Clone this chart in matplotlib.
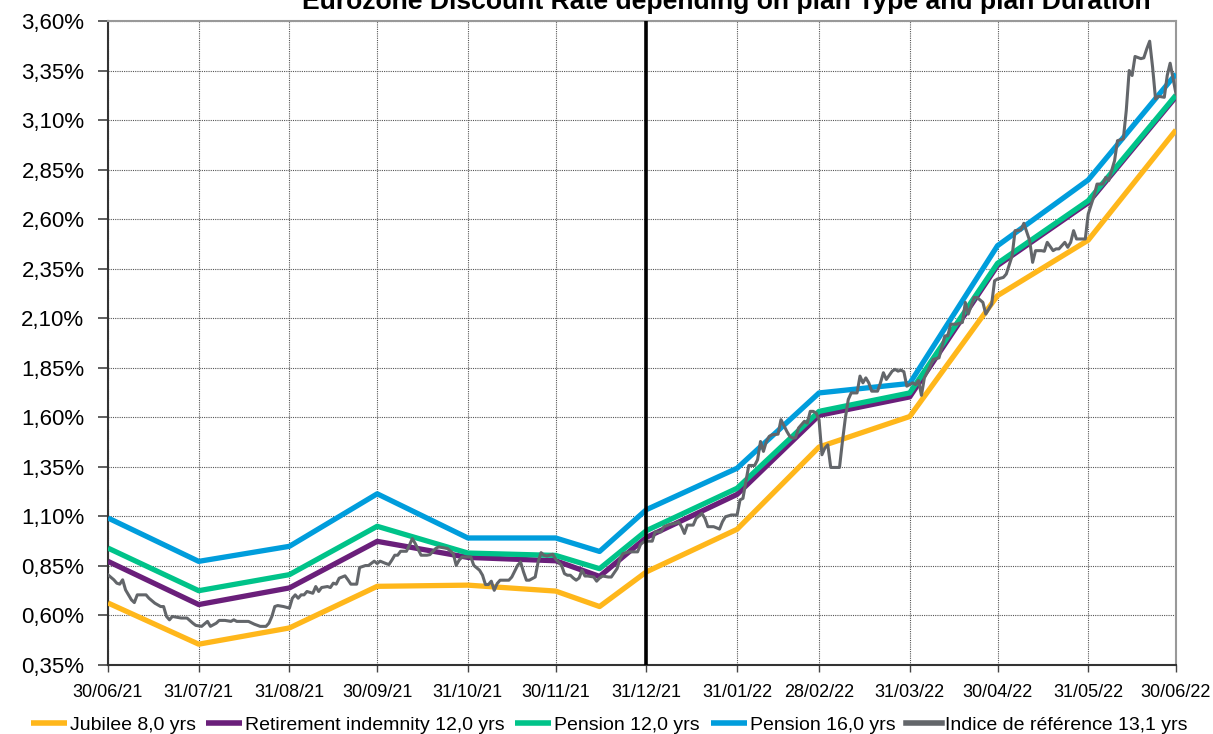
import matplotlib
matplotlib.use('Agg')
import matplotlib.pyplot as plt
import matplotlib.ticker as mticker
import pandas as pd

plt.rcParams['font.family'] = ['Liberation Sans', 'DejaVu Sans']

# ---------------- data ----------------
title = "Eurozone Discount Rate depending on plan Type and plan Duration"

curve_dates = ['2021-06-30', '2021-07-31', '2021-08-31', '2021-09-30', '2021-10-31',
               '2021-11-30', '2021-12-15', '2021-12-31', '2022-01-31', '2022-02-28',
               '2022-03-31', '2022-04-30', '2022-05-31', '2022-06-30']

jubilee_8 = [0.663, 0.455, 0.537, 0.747, 0.753, 0.723, 0.645, 0.820, 1.035, 1.450,
             1.604, 2.214, 2.494, 3.050]
retirement_12 = [0.873, 0.655, 0.739, 0.974, 0.893, 0.876, 0.797, 0.994, 1.211, 1.610,
                 1.703, 2.366, 2.683, 3.218]
pension_12 = [0.940, 0.725, 0.806, 1.050, 0.915, 0.903, 0.836, 1.028, 1.242, 1.630,
              1.723, 2.377, 2.693, 3.226]
pension_16 = [1.092, 0.873, 0.949, 1.214, 0.991, 0.991, 0.923, 1.134, 1.343, 1.723,
              1.771, 2.466, 2.798, 3.333]

index_start = '2021-06-30'
index_day = [0, 2, 3, 4, 5, 6, 8, 9, 10, 13, 14, 16, 18, 19, 20, 21, 22, 25, 27, 29,
             30, 32, 34, 35, 37, 38, 40, 42, 43, 44, 46, 48, 50, 52, 54, 55, 56, 57, 58, 60,
             62, 63, 64, 65, 66, 67, 68, 70, 71, 72, 73, 75, 76, 77, 78, 79, 81, 82, 83, 85,
             86, 88, 89, 91, 92, 93, 95, 96, 97, 98, 99, 100, 102, 103, 104, 105, 107, 109, 110, 112,
             113, 115, 116, 118, 119, 120, 121, 123, 124, 125, 127, 128, 129, 130, 131, 132, 133, 134, 137, 138,
             140, 141, 142, 143, 144, 146, 147, 148, 149, 150, 152, 153, 155, 156, 157, 158, 159, 160, 161, 162,
             163, 164, 166, 167, 168, 169, 171, 172, 174, 175, 176, 178, 179, 181, 182, 183, 184, 186, 187, 189,
             190, 192, 194, 195, 196, 197, 198, 200, 201, 203, 204, 205, 207, 209, 210, 211, 213, 215, 216, 217,
             218, 219, 221, 222, 223, 224, 225, 226, 227, 229, 230, 232, 233, 234, 235, 236, 238, 239, 240, 241,
             242, 243, 244, 245, 246, 247, 249, 250, 251, 252, 253, 254, 256, 257, 258, 259, 260, 261, 263, 264,
             265, 266, 268, 269, 270, 271, 272, 273, 275, 276, 277, 278, 279, 281, 282, 284, 286, 287, 288, 290,
             292, 293, 294, 296, 297, 299, 300, 302, 303, 304, 306, 307, 309, 310, 312, 313, 315, 316, 317, 319,
             320, 321, 323, 324, 325, 327, 328, 329, 330, 331, 333, 334, 335, 337, 338, 340, 341, 342, 344, 345,
             347, 348, 349, 350, 351, 353, 354, 355, 356, 357, 358, 359, 361, 362, 363, 364, 365]
index_rate = [0.805, 0.780, 0.763, 0.758, 0.780, 0.729, 0.679, 0.665, 0.704, 0.704, 0.687, 0.662, 0.645, 0.645, 0.595, 0.578, 0.595, 0.587, 0.587, 0.561,
              0.550, 0.545, 0.570, 0.545, 0.561, 0.575, 0.575, 0.570, 0.578, 0.570, 0.570, 0.570, 0.556, 0.545, 0.545, 0.561, 0.595, 0.645, 0.650, 0.645,
              0.637, 0.687, 0.704, 0.687, 0.704, 0.704, 0.721, 0.712, 0.746, 0.721, 0.741, 0.746, 0.741, 0.763, 0.758, 0.788, 0.800, 0.780, 0.758, 0.758,
              0.842, 0.852, 0.852, 0.874, 0.862, 0.874, 0.862, 0.857, 0.879, 0.904, 0.904, 0.924, 0.924, 0.954, 0.988, 0.963, 0.904, 0.904, 0.907, 0.938,
              0.946, 0.941, 0.938, 0.912, 0.853, 0.879, 0.895, 0.895, 0.895, 0.853, 0.828, 0.803, 0.756, 0.756, 0.773, 0.727, 0.761, 0.778, 0.778, 0.794,
              0.853, 0.870, 0.820, 0.778, 0.778, 0.794, 0.870, 0.917, 0.904, 0.900, 0.909, 0.884, 0.853, 0.811, 0.803, 0.803, 0.789, 0.778, 0.789, 0.828,
              0.799, 0.799, 0.794, 0.773, 0.789, 0.799, 0.794, 0.794, 0.837, 0.887, 0.912, 0.921, 0.921, 0.921, 0.958, 0.971, 0.975, 0.975, 1.022, 1.022,
              1.048, 1.060, 1.065, 1.073, 1.048, 1.014, 1.056, 1.056, 1.090, 1.115, 1.090, 1.048, 1.048, 1.036, 1.073, 1.098, 1.107, 1.107, 1.183, 1.191,
              1.276, 1.357, 1.357, 1.386, 1.478, 1.428, 1.478, 1.504, 1.512, 1.515, 1.588, 1.529, 1.504, 1.495, 1.497, 1.546, 1.580, 1.571, 1.630, 1.630,
              1.622, 1.588, 1.411, 1.445, 1.461, 1.347, 1.347, 1.347, 1.478, 1.597, 1.690, 1.723, 1.723, 1.808, 1.774, 1.799, 1.774, 1.732, 1.732, 1.774,
              1.825, 1.791, 1.833, 1.842, 1.833, 1.838, 1.830, 1.757, 1.774, 1.765, 1.786, 1.711, 1.799, 1.858, 1.892, 1.900, 2.011, 2.011, 2.070, 2.070,
              2.079, 2.180, 2.121, 2.205, 2.205, 2.180, 2.121, 2.171, 2.289, 2.298, 2.306, 2.323, 2.415, 2.542, 2.545, 2.579, 2.491, 2.382, 2.441, 2.441,
              2.438, 2.483, 2.441, 2.450, 2.450, 2.483, 2.458, 2.483, 2.542, 2.500, 2.500, 2.500, 2.626, 2.718, 2.777, 2.777, 2.811, 2.795, 2.895, 2.996,
              3.005, 3.148, 3.350, 3.325, 3.421, 3.410, 3.414, 3.459, 3.498, 3.367, 3.207, 3.220, 3.215, 3.325, 3.387, 3.308, 3.232]

series_labels = ['Jubilee 8,0 yrs', 'Retirement indemnity 12,0 yrs', 'Pension 12,0 yrs',
                 'Pension 16,0 yrs', 'Indice de référence 13,1 yrs']

tick_dates = ['2021-06-30', '2021-07-31', '2021-08-31', '2021-09-30', '2021-10-31',
              '2021-11-30', '2021-12-31', '2022-01-31', '2022-02-28', '2022-03-31',
              '2022-04-30', '2022-05-31', '2022-06-30']
ytick_values = [0.35, 0.60, 0.85, 1.10, 1.35, 1.60, 1.85, 2.10, 2.35, 2.60, 2.85, 3.10, 3.35, 3.60]
split_date = '2021-12-31'

# ---------------- styling ----------------
colors = ['#FFB71B', '#6A1F7A', '#00C389', '#009DDC', '#63666A']
W, H = 1213, 734

fig = plt.figure(figsize=(W / 100, H / 100), dpi=100)
ax = fig.add_axes([108 / W, 1 - 665 / H, (1176 - 108) / W, (665 - 21) / H])

cd = pd.to_datetime(curve_dates)
for vals, lab, col in zip([jubilee_8, retirement_12, pension_12, pension_16],
                          series_labels[:4], colors[:4]):
    ax.plot(cd, vals, color=col, lw=3.8, label=lab, solid_capstyle='butt', zorder=3)

idx_dates = pd.Timestamp(index_start) + pd.to_timedelta(index_day, unit='D')
ax.plot(idx_dates, index_rate, color=colors[4], lw=2.2, label=series_labels[4], zorder=4)

ax.axvline(pd.Timestamp(split_date), color='black', lw=2.6, zorder=5)

ax.set_xlim(pd.Timestamp(tick_dates[0]), pd.Timestamp(tick_dates[-1]))
ax.set_ylim(ytick_values[0], ytick_values[-1])

td = pd.to_datetime(tick_dates)
ax.set_xticks(td)
ax.set_xticklabels([d.strftime('%d/%m/%y') for d in td], fontsize=13)
ax.set_yticks(ytick_values)
ax.yaxis.set_major_formatter(mticker.FuncFormatter(lambda v, p: f"{v:.2f}%".replace('.', ',')))
ax.tick_params(axis='y', labelsize=16, length=7, pad=10, color='#444444', width=1.2)
ax.tick_params(axis='x', length=5, pad=9, color='#444444', width=1)

ax.grid(True, which='major', axis='both', color='#555555', linestyle=(0, (1, 1)), lw=0.8, zorder=1)
ax.set_axisbelow(True)
for side in ['left', 'bottom']:
    ax.spines[side].set_color('#333333')
    ax.spines[side].set_linewidth(1.5)
for side in ['top', 'right']:
    ax.spines[side].set_color('#999999')
    ax.spines[side].set_linewidth(1.5)

# title, partially cut at the top edge like the reference
t = fig.text(726 / W, 1 - 9 / H, title, ha='center', va='baseline',
             fontsize=18, fontweight='bold')
fig.canvas.draw()
w = t.get_window_extent().width
t.set_fontsize(18 * 848 / w)

handles, labels = ax.get_legend_handles_labels()
leg = fig.legend(handles, labels, loc='center', bbox_to_anchor=(609 / W, 1 - 725 / H),
                 ncol=5, frameon=False, fontsize=14, handlelength=1.85,
                 handletextpad=0.15, columnspacing=0.55, borderpad=0, borderaxespad=0)
for lh in leg.get_lines():
    lh.set_linewidth(4)

fig.savefig('out.png', dpi=100)
